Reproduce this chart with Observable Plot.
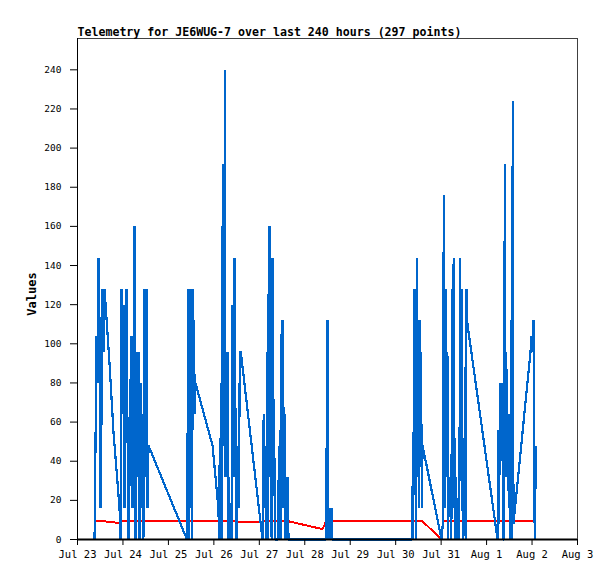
<!DOCTYPE html>
<html>
<head>
<meta charset="utf-8">
<script src="https://cdn.jsdelivr.net/npm/d3@7"></script>
<script src="https://cdn.jsdelivr.net/npm/@observablehq/plot@0.6"></script>
<style>
  html, body { margin: 0; padding: 0; background: #fff; }
</style>
</head>
<body>
<div id="chart"></div>
<script>
const titleText = "Telemetry for JE6WUG-7 over last 240 hours (297 points)";
const yLabel = "Values";
const startDay = "2024-07-23";
const endDay = "2024-08-03";
const xTickDays = ["2024-07-23","2024-07-24","2024-07-25","2024-07-26","2024-07-27","2024-07-28","2024-07-29","2024-07-30","2024-07-31","2024-08-01","2024-08-02","2024-08-03"];
const yTicks = [0,20,40,60,80,100,120,140,160,180,200,220,240];

// hours since Jul 23 00:00
const hours = [
  9.0,9.5,10.0,10.6,11.1,11.6,12.1,12.7,13.2,13.7,14.3,16.9,19.0,22.2,
  22.7,23.2,23.8,24.3,24.8,25.3,25.9,26.4,26.9,27.5,28.0,28.5,29.0,29.6,30.1,30.6,31.2,31.7,32.2,32.7,33.3,33.8,34.3,34.8,35.4,35.9,36.4,37.0,37.5,
  57.8,58.2,58.5,58.9,59.3,59.7,60.0,60.4,60.8,61.1,61.5,61.9,62.3,71.3,74.4,
  74.8,75.1,75.4,75.7,76.0,76.3,76.7,77.1,77.4,77.8,78.1,78.5,78.9,79.3,79.6,80.0,80.5,80.9,81.3,81.9,82.5,82.9,83.4,83.9,84.5,85.2,85.7,86.2,97.7,
  98.3,98.8,99.3,99.8,100.2,100.6,101.0,101.4,101.8,102.2,102.5,103.0,103.4,103.8,104.2,106.0,106.3,106.7,107.1,107.4,107.8,108.2,108.5,108.9,109.3,109.7,110.2,110.6,111.0,111.4,129.4,130.2,131.2,
  131.6,132.0,132.3,132.7,133.1,133.5,133.9,134.3,134.6,155.8,176.6,
  177.0,177.3,177.7,178.1,178.5,178.8,179.2,179.6,179.9,180.3,180.7,181.0,181.4,181.8,182.2,192.2,
  192.9,193.4,193.9,194.3,194.8,195.3,195.7,196.1,196.5,197.0,197.4,197.8,198.2,198.6,199.1,199.5,199.9,200.4,200.8,201.2,201.6,202.1,202.5,202.9,203.3,203.7,204.2,204.6,205.0,205.4,205.9,221.8,
  222.2,222.6,223.1,223.5,223.9,224.3,224.7,225.2,225.6,226.0,226.4,226.9,227.3,227.7,228.1,228.5,229.0,229.4,229.8,230.2,239.2,239.7,240.2,240.8,241.4,242.1
];

const blueValues = [
  0,48,104,80,144,112,16,64,128,96,128,90,55,16,
  0,128,64,120,16,80,128,56,0,32,80,104,16,64,160,0,96,32,96,0,80,16,64,0,128,32,128,16,48,
  0,64,128,0,128,16,128,0,128,56,112,64,80,48,16,
  0,48,16,80,0,160,48,192,64,240,32,96,32,96,0,32,0,16,0,120,32,144,64,0,48,16,96,96,0,
  64,16,48,0,96,0,160,32,160,48,0,144,32,72,0,0,48,0,56,0,112,16,112,32,64,0,32,0,32,0,0,0,0,
  56,112,0,16,0,16,0,16,0,0,0,
  32,0,128,72,128,0,144,32,112,16,112,48,96,16,48,0,
  8,176,16,128,32,96,0,32,16,32,0,128,16,144,32,0,32,0,16,0,16,144,32,128,16,0,16,88,0,128,110,0,
  56,8,80,72,40,80,0,0,192,32,96,32,64,16,64,0,112,0,224,8,96,104,96,112,0,48
];

const redValues = [
  9.3,9.3,9.3,9.3,9.3,9.3,9.3,9.3,9.3,9.3,9.3,8.8,8.8,8.3,
  8.3,9.3,9.3,9.3,9.3,9.3,9.3,9.3,9.3,9.3,9.3,9.3,9.3,9.3,9.3,9.3,9.3,9.3,9.3,9.3,9.3,9.3,9.3,9.3,9.3,9.3,9.3,9.3,9.3,
  9.3,9.3,9.3,9.3,9.3,9.3,9.3,9.3,9.3,9.3,9.3,9.3,9.3,9.3,9.3,
  9.3,9.3,9.3,9.3,9.3,9.3,9.3,9.3,9.3,9.3,9.3,9.3,9.3,9.3,9.3,9.3,9.3,9.3,9.3,9.3,9.3,9.3,9.3,9.3,8.8,8.8,8.8,8.8,8.8,
  9.3,9.3,9.3,9.3,9.3,9.3,9.3,9.3,9.3,9.3,9.3,9.3,9.3,9.3,9.3,9.3,9.3,9.3,9.3,9.3,9.3,9.3,9.3,9.3,9.3,9.3,9.3,9.3,9.3,9.3,5.3,7.0,9.3,
  9.3,9.3,9.3,9.3,9.3,9.3,9.3,9.3,9.3,9.3,9.3,
  9.3,9.3,9.3,9.3,9.3,9.3,9.3,9.3,9.3,9.3,9.3,9.3,9.3,9.3,9.3,0,
  9.3,9.3,9.3,9.3,9.3,9.3,9.3,9.3,9.3,9.3,9.3,9.3,9.3,9.3,9.3,9.3,9.3,9.3,9.3,9.3,9.3,9.3,9.3,9.3,9.3,9.3,9.3,9.3,9.3,9.3,9.3,9.3,
  9.3,9.3,9.3,9.3,9.3,9.3,9.3,9.3,9.3,9.3,9.3,9.3,9.3,9.3,9.3,9.3,9.3,9.3,9.3,9.3,9.3,9.3,9.3,9.3,9.3,9.3
];

const t0 = new Date(startDay + "T00:00:00Z");
const t1 = new Date(endDay + "T00:00:00Z");
const data = hours.map((h, i) => ({
  t: new Date(t0.getTime() + h * 3600e3),
  blue: blueValues[i],
  red: redValues[i]
}));
const xTicks = xTickDays.map(d => new Date(d + "T00:00:00Z"));
const fmt = d3.utcFormat("%b %-d");

const chart = Plot.plot({
  width: 615,
  height: 579,
  marginLeft: 77,
  marginRight: 38,
  marginTop: 38,
  marginBottom: 40,
  style: {fontFamily: "'DejaVu Sans Mono', monospace", background: "#fff", color: "#000"},
  x: {type: "utc", domain: [t0, t1]},
  y: {domain: [0, 256]},
  marks: [
    Plot.frame({stroke: "#404040", strokeWidth: 1}),
    Plot.line(data, {x: "t", y: "red", stroke: "#ff0000", strokeWidth: 2, strokeLinejoin: "bevel", strokeLinecap: "butt", shapeRendering: "crispEdges"}),
    Plot.line(data, {x: "t", y: "blue", stroke: "#0066cc", strokeWidth: 2.2, strokeLinejoin: "bevel", strokeLinecap: "butt", shapeRendering: "crispEdges"}),
    Plot.ruleY([0], {stroke: "#000", strokeWidth: 2}),
    Plot.ruleX([t0], {stroke: "#000", strokeWidth: 1}),
    Plot.axisY({ticks: yTicks, tickSize: 7, tickPadding: 9, fontSize: 9.5, label: null}),
    Plot.axisX({ticks: xTicks, tickFormat: fmt, tickSize: 6, tickPadding: 5, fontSize: 10.5, label: null}),
    Plot.text([titleText], {frameAnchor: "top-left", textAnchor: "start", lineAnchor: "bottom", dy: -3, fontWeight: "bold", fontSize: 11.6, fill: "#000"}),
    Plot.text([yLabel], {frameAnchor: "left", dx: -45, dy: 5, rotate: -90, textAnchor: "middle", lineAnchor: "middle", fontWeight: "bold", fontSize: 12, fill: "#000"})
  ]
});
document.getElementById("chart").appendChild(chart);
</script>
</body>
</html>
